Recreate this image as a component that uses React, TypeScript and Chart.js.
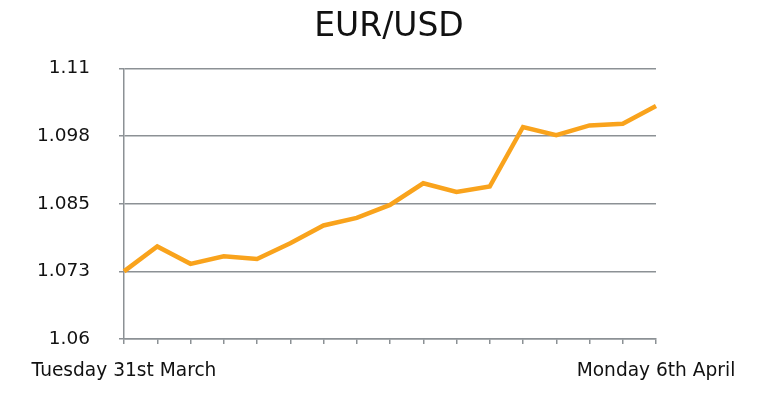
import React, { useEffect, useRef } from "react";
import { Chart, registerables } from "chart.js";

Chart.register(...registerables);

const categories: string[] = [
  "Tuesday 31st March", "", "", "", "", "", "", "", "", "", "", "", "", "", "", "", "Monday 6th April",
];
const eurUsd: number[] = [
  1.0725, 1.0771, 1.0739, 1.0753, 1.0748, 1.0777, 1.081, 1.0824, 1.0848,
  1.0888, 1.0872, 1.0882, 1.0992, 1.0977, 1.0995, 1.0998, 1.1031,
];
const yTickValues: number[] = [1.06, 1.0725, 1.085, 1.0975, 1.11];
const yTickLabels: string[] = ["1.06", "1.073", "1.085", "1.098", "1.11"];

const FONT = "'DejaVu Sans', sans-serif";
const GRID = "#8c9195";

export default function App() {
  const ref = useRef<HTMLCanvasElement | null>(null);
  useEffect(() => {
    if (!ref.current) return;
    const chart = new Chart(ref.current, {
      type: "line",
      data: {
        labels: categories,
        datasets: [
          {
            label: "EUR/USD",
            data: eurUsd,
            borderColor: "#f9a31c",
            borderWidth: 4.5,
            pointRadius: 0,
            tension: 0,
            fill: false,
          },
        ],
      },
      options: {
        animation: false,
        responsive: false,
        layout: { padding: { left: 8, right: 0, top: 0, bottom: 0 } },
        plugins: {
          legend: { display: false },
          tooltip: { enabled: false },
          title: {
            display: true,
            text: "EUR/USD",
            color: "#111",
            font: { family: FONT, size: 33, weight: "normal", lineHeight: 1.2 },
            padding: { top: 8, bottom: 21 },
          },
        },
        scales: {
          x: {
            offset: false,
            grid: {
              display: true,
              drawOnChartArea: false,
              drawTicks: true,
              tickLength: 5,
              color: GRID,
              lineWidth: 1.5,
            },
            border: { display: true, color: GRID, width: 1.5 },
            ticks: {
              autoSkip: false,
              maxRotation: 0,
              minRotation: 0,
              padding: 16,
              color: "#111",
              font: { family: FONT, size: 18.6 },
              callback: (_v: any, i: number) => categories[i],
            },
            afterFit: (s: any) => {
              s.height = 65;
            },
          },
          y: {
            min: 1.06,
            max: 1.11,
            afterBuildTicks: (s: any) => {
              s.ticks = yTickValues.map((v) => ({ value: v }));
            },
            grid: {
              color: GRID,
              lineWidth: 1.5,
              tickLength: 5,
              drawTicks: true,
            },
            border: { display: true, color: GRID, width: 1.5 },
            ticks: {
              padding: 29,
              color: "#111",
              font: { family: FONT, size: 18.5 },
              callback: (_v: any, i: number) => yTickLabels[i],
            },
            afterFit: (s: any) => {
              s.width = 116;
            },
          },
          spacer: {
            type: "linear",
            position: "right",
            display: true,
            grid: { display: false, drawTicks: false },
            border: { display: false },
            ticks: { display: false },
            afterFit: (s: any) => {
              s.width = 114;
            },
          },
        },
      },
    });
    return () => chart.destroy();
  }, []);
  return (
    <div style={{ position: "fixed", left: 0, top: 0, width: 770, height: 404, background: "#fff" }}>
      <canvas ref={ref} width={770} height={404} style={{ width: 770, height: 404 }} />
    </div>
  );
}
